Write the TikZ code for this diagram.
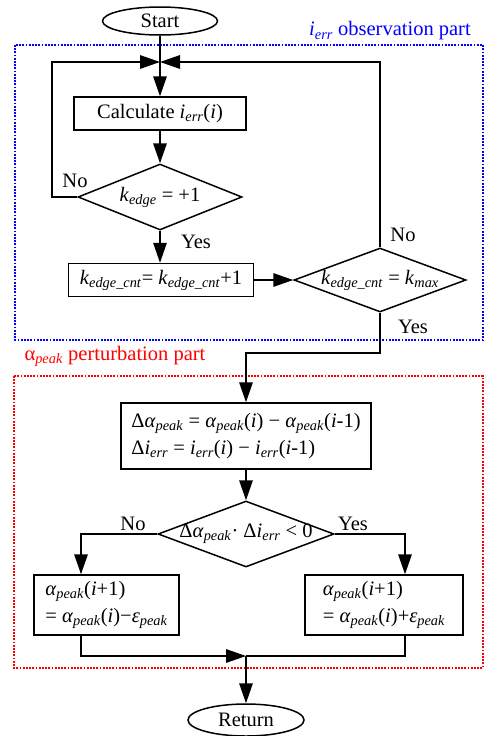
\documentclass[tikz,border=0pt]{standalone}
\usepackage{fontspec}
\setmainfont{Liberation Serif}
\usetikzlibrary{arrows.meta,shapes.geometric}
\newcommand\lo[1]{\textsubscript{\textit{#1}}}
\tikzset{
  every node/.style={font=\fontsize{20.5}{27}\selectfont},
  ln/.style={line width=1.5pt, draw=black},
  arr/.style={ln, -{Triangle[length=20pt,width=13.5pt]}},
  box/.style={draw, line width=1.5pt, rectangle, inner sep=0pt, align=center},
  dia/.style={draw, line width=1.5pt, diamond, inner sep=0pt},
  term/.style={draw, line width=1.5pt, ellipse, inner sep=0pt},
  lbl/.style={inner sep=0pt},
  grp/.style={line width=1.3pt, dash pattern=on 1.8pt off 1.4pt},
}
\begin{document}
\begin{tikzpicture}[x=1pt,y=-1pt]
\useasboundingbox (0,0) rectangle (485,736);
% groups
\draw[grp, blue] (15,45) rectangle (483,340);
\node[lbl, text=blue] (t1) at (390,31) {\textit{i}\lo{err} observation part};
\draw[grp, red] (14,376) rectangle (483,668);
\node[lbl, text=red] (t2) at (115,356) {α\lo{peak} perturbation part};
% nodes
\node[term, minimum width=115pt, minimum height=28pt] (start) at (160,21) {Start};
\coordinate (J) at (160,62);
\node[box, minimum width=172pt, minimum height=33pt] (calc) at (160,113.5) {Calculate \textit{i}\lo{err}(\textit{i})};
\node[dia, minimum width=164pt, minimum height=66pt, label=center:{\textit{k}\lo{edge} = +1}] (d1) at (160,197) {};
\node[box, minimum width=185pt, minimum height=33pt] (cnt) at (161,280) {\textit{k}\lo{edge\_cnt}= \textit{k}\lo{edge\_cnt}+1};
\node[dia, minimum width=172pt, minimum height=64pt, label=center:{\textit{k}\lo{edge\_cnt} = \textit{k}\lo{max}}] (d2) at (380,280) {};
\coordinate (cL) at (52,62);
\coordinate (cR) at (380,62);
\coordinate (c2) at (380,353);
\node[box, minimum width=250pt, minimum height=66pt, align=left] (b3) at (246,436) {Δ\textit{α}\lo{peak} = \textit{α}\lo{peak}(\textit{i}) − \textit{α}\lo{peak}(\textit{i}-1)\\Δ\textit{i}\lo{err} = \textit{i}\lo{err}(\textit{i}) − \textit{i}\lo{err}(\textit{i}-1)};
\node[dia, minimum width=176pt, minimum height=66pt, label=center:{Δ\textit{α}\lo{peak}· Δ\textit{i}\lo{err} < 0}] (d3) at (246,534) {};
\coordinate (cA) at (81,534);
\coordinate (cB) at (405,534);
\node[box, minimum width=145pt, minimum height=60pt, align=left] (b4) at (106.5,605) {\textit{α}\lo{peak}(\textit{i}+1)\\= \textit{α}\lo{peak}(\textit{i})−\textit{ε}\lo{peak}};
\node[box, minimum width=158pt, minimum height=60pt, align=left] (b5) at (384,605) {\textit{α}\lo{peak}(\textit{i}+1)\\= \textit{α}\lo{peak}(\textit{i})+\textit{ε}\lo{peak}};
\coordinate (cJ) at (246,656);
\node[term, minimum width=116pt, minimum height=32pt] (ret) at (246,720) {Return};
% labels
\node[lbl] (n1) at (75,181) {No};
\node[lbl] (y1) at (196,242) {Yes};
\node[lbl] (n2) at (403,235) {No};
\node[lbl] (y2) at (413,327) {Yes};
\node[lbl] (n3) at (133,524) {No};
\node[lbl] (y3) at (353,524) {Yes};
% connectors
\draw[ln] (start.south) -- (J);
\draw[arr] (J) -- (calc.north);
\draw[arr] (calc.south) -- (d1.north);
\draw[arr] (d1.west) -- (d1.west -| cL) -- (cL) -- (J);
\draw[arr] (d1.south) -- (cnt.north -| d1.south);
\draw[arr] (cnt.east) -- (d2.west);
\draw[arr] (d2.north) -- (cR) -- (J);
\draw[arr] (d2.south) -- (c2) -| (b3.north);
\draw[arr] (b3.south) -- (d3.north);
\draw[arr] (d3.west) -- (cA) -- (cA |- b4.north);
\draw[arr] (d3.east) -- (cB) -- (cB |- b5.north);
\draw[arr] (cA |- b4.south) -- (cA |- cJ) -- (cJ);
\draw[ln] (cB |- b5.south) -- (cB |- cJ) -- (cJ);
\draw[arr] (cJ) -- (ret.north);
\end{tikzpicture}
\end{document}
